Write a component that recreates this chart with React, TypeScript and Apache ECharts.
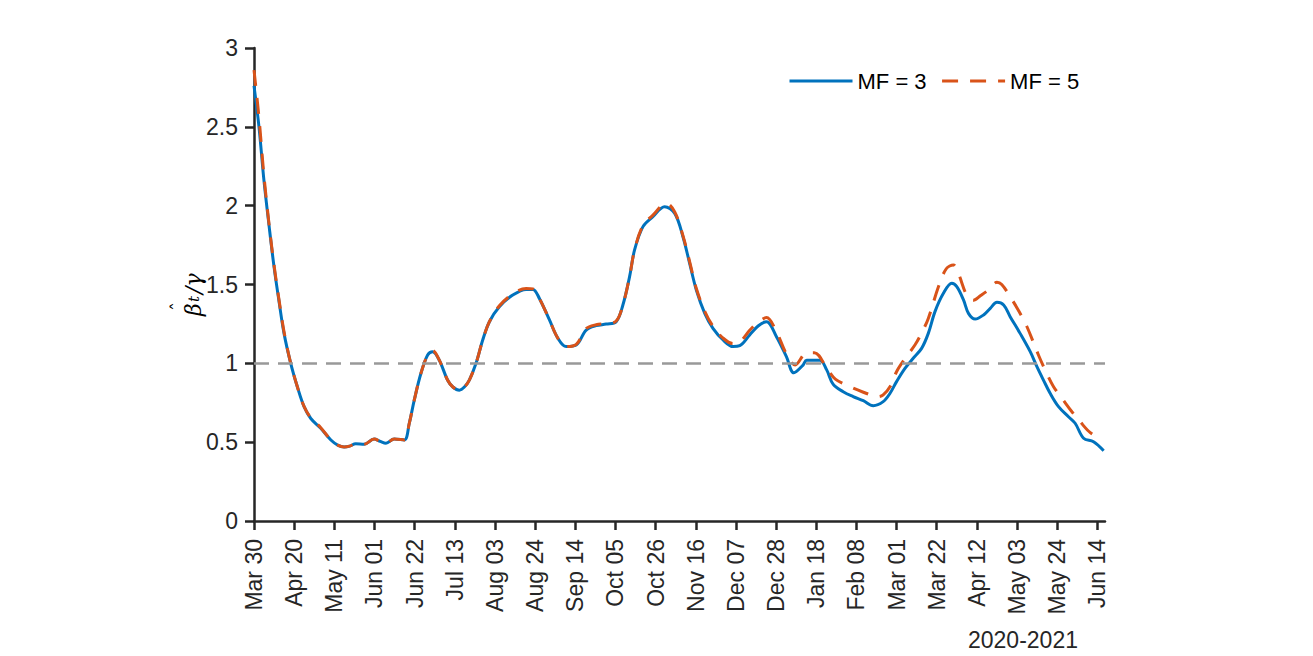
import React, { useEffect, useRef } from "react";
import * as echarts from "echarts";

// x = days since Mar 30, 2020
const TICK_DAYS = [0, 21, 42, 63, 84, 105, 126, 147, 168, 189, 210, 231, 252, 273, 294, 315, 336, 357, 378, 399, 420, 441];
const TICK_LABELS = ["Mar 30", "Apr 20", "May 11", "Jun 01", "Jun 22", "Jul 13", "Aug 03", "Aug 24", "Sep 14", "Oct 05", "Oct 26", "Nov 16", "Dec 07", "Dec 28", "Jan 18", "Feb 08", "Mar 01", "Mar 22", "Apr 12", "May 03", "May 24", "Jun 14"];

const MF3_DAYS = [0, 2.6, 5.2, 7.9, 10.5, 13, 15.7, 19.2, 22.7, 26.2, 29.7, 34.9, 40.2, 44, 47.1, 50, 53.2, 57.6, 62.8, 66, 69, 73.3, 78.6, 81.2, 83.8, 87.3, 90.8, 93.4, 96.9, 101.2, 104, 107.4, 110, 112.6, 116.1, 119.6, 123.1, 128.3, 135.3, 142.3, 145.8, 149.3, 154.5, 158.9, 163.2, 168.5, 173.7, 178.9, 184.2, 189.4, 192.9, 196.4, 199, 203.4, 208.6, 214.7, 220, 224.3, 227.8, 231.3, 235.7, 240, 245.3, 250.5, 254, 259.2, 263.6, 268, 273.2, 278.4, 282.3, 287.1, 289, 295.9, 299.4, 302.9, 308.1, 313.3, 318.6, 323.8, 329, 332.6, 336, 340.4, 344.7, 349.1, 352.6, 356.1, 360.5, 364.9, 367.5, 371, 373.6, 377.1, 381.5, 385, 388.5, 392, 395.4, 400.6, 405.9, 409.4, 412.8, 416.3, 420.7, 425.9, 429.4, 433.8, 439, 444.3];
const MF3_VALUES = [2.76, 2.5, 2.16, 1.87, 1.61, 1.4, 1.19, 1.0, 0.85, 0.725, 0.65, 0.588, 0.514, 0.48, 0.47, 0.475, 0.49, 0.487, 0.52, 0.505, 0.493, 0.52, 0.514, 0.62, 0.767, 0.937, 1.053, 1.074, 1.02, 0.894, 0.85, 0.83, 0.85, 0.894, 1.0, 1.148, 1.264, 1.359, 1.433, 1.469, 1.469, 1.41, 1.275, 1.159, 1.106, 1.116, 1.211, 1.239, 1.249, 1.264, 1.37, 1.55, 1.719, 1.867, 1.93, 1.993, 1.951, 1.803, 1.634, 1.465, 1.317, 1.222, 1.148, 1.106, 1.112, 1.18, 1.237, 1.264, 1.169, 1.042, 0.94, 0.989, 1.02, 1.02, 0.96, 0.866, 0.82, 0.789, 0.763, 0.731, 0.757, 0.81, 0.884, 0.968, 1.032, 1.095, 1.19, 1.328, 1.444, 1.508, 1.486, 1.402, 1.317, 1.281, 1.307, 1.349, 1.387, 1.37, 1.296, 1.19, 1.074, 0.979, 0.894, 0.81, 0.725, 0.661, 0.62, 0.525, 0.503, 0.446];

const MF5_DAYS = [0, 2.6, 5.2, 7.9, 10.5, 13, 15.7, 19.2, 22.7, 26.2, 29.7, 34.9, 40.2, 44, 47.1, 50, 53.2, 57.6, 62.8, 66, 69, 73.3, 78.6, 81.2, 83.8, 87.3, 90.8, 93.4, 96.9, 101.2, 104, 107.4, 110, 112.6, 116.1, 119.6, 123.1, 128.3, 135.3, 142.3, 145.8, 149.3, 154.5, 158.9, 163.2, 168.5, 173.7, 178.9, 184.2, 189.4, 192.9, 196.4, 199, 203.4, 208.6, 215.6, 220, 224.3, 227.8, 231.3, 235.7, 240, 245.3, 250.5, 254, 259.2, 263.6, 268, 273.2, 278.4, 283, 289, 293, 300, 304, 311.6, 318, 326.4, 329, 333, 336, 340.4, 345.6, 349, 352.6, 357.9, 362, 365.7, 368.3, 372.7, 376.2, 380, 384, 388.5, 391, 395.4, 400, 404.2, 410.2, 414, 418.1, 423, 427.7, 432, 437.3, 442.5];
const MF5_VALUES = [2.86, 2.56, 2.19, 1.88, 1.62, 1.41, 1.2, 1.0, 0.85, 0.725, 0.655, 0.592, 0.514, 0.48, 0.47, 0.475, 0.49, 0.487, 0.52, 0.505, 0.493, 0.52, 0.514, 0.62, 0.767, 0.937, 1.053, 1.08, 1.02, 0.894, 0.85, 0.83, 0.85, 0.894, 1.0, 1.148, 1.264, 1.365, 1.44, 1.475, 1.472, 1.41, 1.275, 1.159, 1.106, 1.12, 1.22, 1.245, 1.252, 1.268, 1.37, 1.55, 1.719, 1.875, 1.94, 2.015, 1.96, 1.81, 1.645, 1.475, 1.33, 1.235, 1.16, 1.125, 1.135, 1.21, 1.26, 1.29, 1.2, 1.06, 0.99, 1.067, 1.067, 0.96, 0.9, 0.852, 0.82, 0.789, 0.8, 0.86, 0.947, 1.03, 1.116, 1.19, 1.285, 1.486, 1.6, 1.624, 1.571, 1.433, 1.4, 1.43, 1.465, 1.514, 1.5, 1.423, 1.33, 1.232, 1.053, 0.95, 0.852, 0.77, 0.693, 0.63, 0.56, 0.525];

const REF_LEVEL = 1;
const X_MAX = 445;
const FONT = "'Liberation Sans', Arial, Helvetica, sans-serif";
const SERIF = "'DejaVu Serif', 'Liberation Serif', serif";

export default function App() {
  const ref = useRef<HTMLDivElement>(null);
  useEffect(() => {
    if (!ref.current) return;
    const chart = echarts.init(ref.current, null, { renderer: "svg" });
    const mf3 = MF3_DAYS.map((d, i) => [d, MF3_VALUES[i]]);
    const mf5 = MF5_DAYS.map((d, i) => [d, MF5_VALUES[i]]);
    const axisColor = "#262626";
    chart.setOption({
      animation: false,
      backgroundColor: "#ffffff",
      grid: { left: 254, right: 208, top: 48, bottom: 135, containLabel: false },
      legend: {
        left: 783,
        top: 65,
        itemWidth: 63,
        itemHeight: 16,
        itemGap: 14,
        itemStyle: { opacity: 0 },
        lineStyle: { width: 3 },
        textStyle: { fontFamily: FONT, fontSize: 22, color: "#000" },
        data: ["MF = 3", "MF = 5"],
      },
      xAxis: {
        type: "value",
        min: 0,
        max: X_MAX,
        interval: 21,
        splitLine: { show: false },
        axisLine: { lineStyle: { color: axisColor, width: 2.5 } },
        axisTick: { inside: false, length: 9, lineStyle: { color: axisColor, width: 2.5 }, customValues: TICK_DAYS },
        axisLabel: {
          rotate: 90,
          margin: 18,
          fontFamily: FONT,
          fontSize: 23,
          color: axisColor,
          customValues: TICK_DAYS,
          formatter: (v: number) => TICK_LABELS[Math.round(v / 21)] ?? "",
        },
      },
      yAxis: {
        type: "value",
        min: 0,
        max: 3,
        interval: 0.5,
        splitLine: { show: false },
        axisLine: { show: true, lineStyle: { color: axisColor, width: 2.5 } },
        axisTick: { show: true, inside: false, length: 9, lineStyle: { color: axisColor, width: 2.5 } },
        axisLabel: { margin: 16, fontFamily: FONT, fontSize: 23, color: axisColor },
      },
      graphic: [
        {
          type: "text",
          x: 1023,
          y: 640,
          style: { text: "2020-2021", font: `23px ${FONT}`, fill: axisColor, align: "center", verticalAlign: "middle" },
        },
        {
          type: "group",
          x: 182,
          y: 289,
          rotation: Math.PI / 2,
          children: [
            { type: "text", x: -27, y: 0, style: { text: "β", font: `italic 22px ${SERIF}`, fill: "#000", verticalAlign: "alphabetic" } },
            { type: "text", x: -22, y: -13, style: { text: "ˆ", font: `18px ${SERIF}`, fill: "#000", verticalAlign: "alphabetic" } },
            { type: "text", x: -13, y: 4, style: { text: "t", font: `italic 15px ${SERIF}`, fill: "#000", verticalAlign: "alphabetic" } },
            { type: "text", x: -5, y: 0, style: { text: "/γ", font: `italic 22px ${SERIF}`, fill: "#000", verticalAlign: "alphabetic" } },
          ],
        },
      ],
      series: [
        {
          name: "MF = 3",
          type: "line",
          data: mf3,
          smooth: 0.35,
          symbol: "none",
          lineStyle: { color: "#0072BD", width: 3 },
          itemStyle: { color: "#0072BD" },
          z: 3,
          markLine: {
            silent: true,
            symbol: "none",
            label: { show: false },
            lineStyle: { color: "#999999", width: 2.5, type: [15, 9] },
            data: [{ yAxis: REF_LEVEL }],
          },
        },
        {
          name: "MF = 5",
          type: "line",
          data: mf5,
          smooth: 0.35,
          symbol: "none",
          lineStyle: { color: "#D95319", width: 3, type: [16, 12] },
          itemStyle: { color: "#D95319" },
          z: 4,
        },
      ],
    });
    return () => chart.dispose();
  }, []);
  return <div ref={ref} style={{ position: "fixed", left: 0, top: 0, width: 1313, height: 656 }} />;
}
